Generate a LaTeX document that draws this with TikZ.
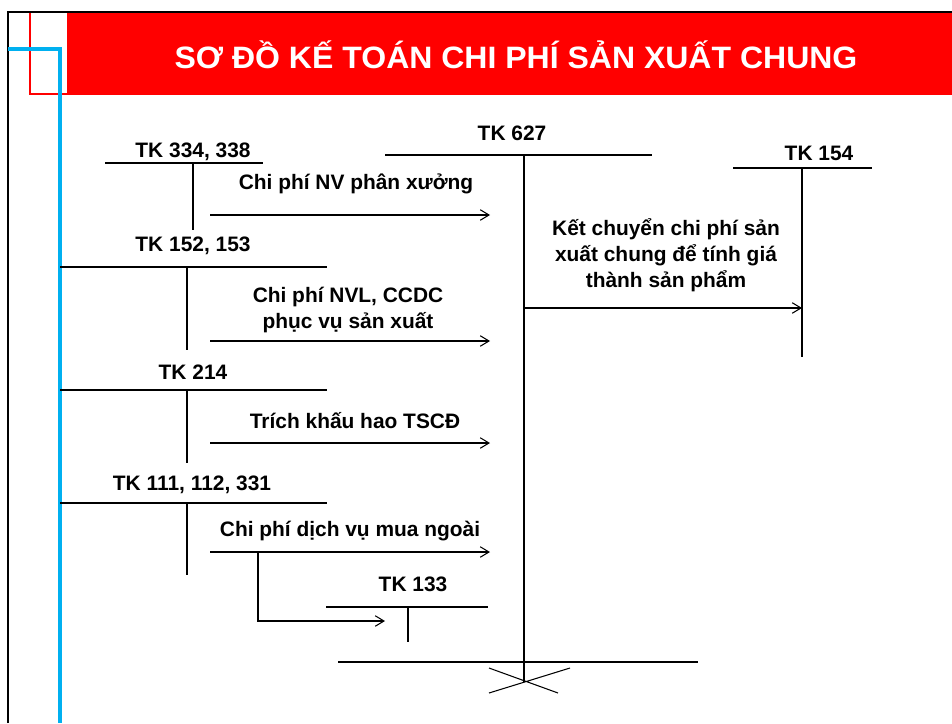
\documentclass[tikz,border=0pt]{standalone}
\usepackage{fontspec}
\setmainfont{Liberation Sans}
\usetikzlibrary{arrows.meta}
\definecolor{titlered}{RGB}{255,0,0}
\definecolor{frameblue}{RGB}{0,176,240}

\begin{document}
\begin{tikzpicture}[
x=0.02cm, y=-0.02cm,
title/.style={text=white, font=\bfseries\fontsize{17.6}{20}\selectfont, inner sep=0pt, xscale=1.035},
tk/.style={font=\bfseries\fontsize{11.9}{14}\selectfont, inner sep=0pt},
note/.style={font=\bfseries\fontsize{11.9}{14.7}\selectfont, align=center, inner sep=0pt},
acc/.style={line width=1.2pt},
arr/.style={-{Straight Barb[length=5pt,width=6pt]}, line width=0.6pt}
]
\useasboundingbox (0,0) rectangle (952,723);

% frame and title bar
\fill[titlered] (67,13) rectangle (952,95);
\draw[titlered, line width=1.4pt] (30,12) -- (30,94) -- (67,94);
\draw[line width=1.7pt] (8,723) -- (8,12) -- (952,12);
\draw[frameblue, line width=2.2pt] (8,49) -- (60,49) -- (60,723);
\node[title] (title) at (516,55) {SƠ ĐỒ KẾ TOÁN CHI PHÍ SẢN XUẤT CHUNG};

% accounts
\node[tk] (tk334) at (193,152) {TK 334, 338};
\node[tk] (tk627) at (512,133) {TK 627};
\node[tk] (tk154) at (819,153) {TK 154};
\node[tk] (tk152) at (193,246) {TK 152, 153};
\node[tk] (tk214) at (193,372) {TK 214};
\node[tk] (tk111) at (192,485) {TK 111, 112, 331};
\node[tk] (tk133) at (413,584) {TK 133};

\draw[acc] (105,163) -- (263,163) (193,163) -- (193,230);
\draw[acc] (385,155) -- (652,155) (524,155) -- (524,682);
\draw[acc] (733,168) -- (872,168) (802,168) -- (802,357);
\draw[acc] (60,267) -- (327,267) (187,267) -- (187,350);
\draw[acc] (60,390) -- (327,390) (187,390) -- (187,463);
\draw[acc] (60,503) -- (327,503) (187,503) -- (187,575);
\draw[acc] (326,607) -- (488,607) (408,607) -- (408,642);

% closing line
\draw[acc] (338,662) -- (698,662);
\draw[line width=0.6pt] (489,668) -- (558,693) (489,693) -- (570,668);

% entries
\coordinate (nv) at (210,215);
\coordinate (nvl) at (210,341);
\coordinate (kh) at (210,443);
\coordinate (dv) at (210,552);
\coordinate (in627a) at (490,215);
\coordinate (in627b) at (490,341);
\coordinate (in627c) at (490,443);
\coordinate (in627d) at (490,552);
\coordinate (vat) at (258,552);
\coordinate (vatend) at (385,621);
\coordinate (kc) at (524,308);
\coordinate (in154) at (802,308);

\draw[arr] (nv) -- (in627a);
\draw[arr] (nvl) -- (in627b);
\draw[arr] (kh) -- (in627c);
\draw[arr] (dv) -- (in627d);
\draw[arr] (vat) |- (vatend);
\draw[arr] (kc) -- (in154);

\node[note] (lnv) at (356,184) {Chi phí NV phân xưởng};
\node[note] (lnvl) at (348,310) {Chi phí NVL, CCDC\\phục vụ sản xuất};
\node[note] (lkh) at (355,421) {Trích khấu hao TSCĐ};
\node[note] (ldv) at (350,531) {Chi phí dịch vụ mua ngoài};
\node[note] (lkc) at (666,255) {Kết chuyển chi phí sản\\xuất chung để tính giá\\thành sản phẩm};
\end{tikzpicture}
\end{document}
